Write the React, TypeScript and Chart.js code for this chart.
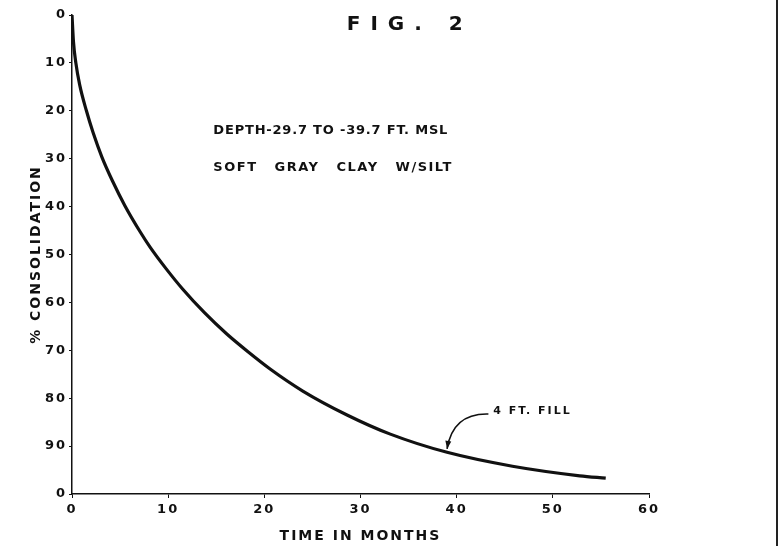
import { useEffect, useRef } from 'react';
import { Chart, registerables } from 'chart.js';

Chart.register(...registerables);

// ---- data ----
const months = [0, 0.15, 0.4, 0.8, 1.5, 2.2, 3.1, 4.2, 5.5, 7.1, 8.1, 9.8, 11.5, 13.8, 16.1, 18.3, 20.6, 24.0, 28.6, 33.1, 39.0, 45.8, 52.8, 55.5];
const consolidation = [0, 5.5, 10.0, 14.6, 20.0, 24.6, 29.6, 34.6, 39.8, 45.3, 48.4, 53.0, 57.2, 62.2, 66.6, 70.3, 73.9, 78.5, 83.5, 87.5, 91.3, 94.2, 96.2, 96.7];

const xTicks = [0, 10, 20, 30, 40, 50, 60];
const yTicks = [0, 10, 20, 30, 40, 50, 60, 70, 80, 90, 100];
const yTickLabels = ['0', '10', '20', '30', '40', '50', '60', '70', '80', '90', '0'];

const figTitle = 'FIG. 2';
const noteLines = ['DEPTH-29.7 TO -39.7 FT. MSL', 'SOFT GRAY CLAY W/SILT'];
const fillLabel = '4 FT. FILL';
const xTitle = 'TIME IN MONTHS';
const yTitle = '% CONSOLIDATION';

// annotation anchors in data units (month, % consolidation)
const figAt = [34.6, 2.1];
const noteAt = [[14.7, 24.2], [14.7, 31.9]];
const fillAt = [43.8, 82.7];
const arrowFrom = [43.3, 83.3];
const arrowCtrl = [39.6, 83.1];
const arrowTo = [39.0, 90.6];

const FONT = '"DejaVu Sans", sans-serif';
const INK = '#111';

const notesPlugin = {
  id: 'notes',
  beforeDraw(chart: any) {
    chart.ctx.letterSpacing = '2px';
  },
  afterDatasetsDraw(chart: any) {
    const { ctx, scales } = chart;
    const px = (v: number) => scales.x.getPixelForValue(v);
    const py = (v: number) => scales.y.getPixelForValue(v);
    ctx.save();
    ctx.fillStyle = INK;
    ctx.strokeStyle = INK;
    ctx.textBaseline = 'middle';

    // figure title
    ctx.font = `bold 20px ${FONT}`;
    ctx.letterSpacing = '10px';
    ctx.textAlign = 'center';
    ctx.fillText(figTitle, px(figAt[0]) + 5, py(figAt[1]));

    // notes
    ctx.textAlign = 'left';
    ctx.font = `bold 13px ${FONT}`;
    ctx.letterSpacing = '0.8px';
    ctx.fillText(noteLines[0], px(noteAt[0][0]), py(noteAt[0][1]));
    ctx.letterSpacing = '1.5px';
    (ctx as any).wordSpacing = '11px';
    ctx.fillText(noteLines[1], px(noteAt[1][0]), py(noteAt[1][1]));
    (ctx as any).wordSpacing = '0px';

    // fill label
    ctx.font = `bold 11px ${FONT}`;
    ctx.letterSpacing = '2px';
    ctx.fillText(fillLabel, px(fillAt[0]), py(fillAt[1]));

    // arrow
    const x0 = px(arrowFrom[0]), y0 = py(arrowFrom[1]);
    const cx = px(arrowCtrl[0]), cy = py(arrowCtrl[1]);
    const x1 = px(arrowTo[0]), y1 = py(arrowTo[1]);
    ctx.lineWidth = 1.6;
    ctx.beginPath();
    ctx.moveTo(x0, y0);
    ctx.quadraticCurveTo(cx, cy, x1, y1);
    ctx.stroke();
    const ang = Math.atan2(y1 - cy, x1 - cx);
    const L = 8, W = 3;
    ctx.beginPath();
    ctx.moveTo(x1, y1);
    ctx.lineTo(x1 - L * Math.cos(ang) + W * Math.sin(ang), y1 - L * Math.sin(ang) - W * Math.cos(ang));
    ctx.lineTo(x1 - L * Math.cos(ang) - W * Math.sin(ang), y1 - L * Math.sin(ang) + W * Math.cos(ang));
    ctx.closePath();
    ctx.fill();
    ctx.restore();
  },
};

export default function App() {
  const ref = useRef<HTMLCanvasElement>(null);
  useEffect(() => {
    document.body.style.margin = '0';
    const chart = new Chart(ref.current!, {
      type: 'line',
      data: {
        datasets: [
          {
            data: months.map((m, i) => ({ x: m, y: consolidation[i] })),
            borderColor: INK,
            borderWidth: 3.2,
            pointRadius: 0,
            cubicInterpolationMode: 'monotone',
            fill: false,
          },
        ],
      },
      options: {
        animation: false,
        responsive: false,
        events: [],
        layout: { padding: { top: 15, right: 131, left: 0, bottom: 0 } },
        plugins: { legend: { display: false }, tooltip: { enabled: false } },
        scales: {
          x: {
            type: 'linear',
            min: 0,
            max: 60,
            afterFit: (s: any) => { s.height = 52; },
            afterBuildTicks: (s: any) => { s.ticks = xTicks.map((v) => ({ value: v })); },
            grid: { drawOnChartArea: false, drawTicks: true, tickLength: 4, color: INK, lineWidth: 1 },
            border: { display: true, color: INK, width: 1.5 },
            ticks: { color: INK, font: { family: FONT, size: 13, weight: 'bold' }, padding: 4, maxRotation: 0 },
            title: { display: true, text: xTitle, color: INK, font: { family: FONT, size: 14, weight: 'bold' }, padding: { top: 0, bottom: 1 } },
          },
          y: {
            type: 'linear',
            min: 0,
            max: 100,
            reverse: true,
            afterFit: (s: any) => { s.width = 72; },
            afterBuildTicks: (s: any) => { s.ticks = yTicks.map((v) => ({ value: v })); },
            grid: { drawOnChartArea: false, drawTicks: true, tickLength: 3, color: INK, lineWidth: 1 },
            border: { display: true, color: INK, width: 1.5 },
            ticks: {
              color: INK,
              font: { family: FONT, size: 13, weight: 'bold' },
              padding: 2,
              callback: (v: any) => yTickLabels[yTicks.indexOf(Number(v))] ?? '',
            },
            title: { display: true, text: yTitle, color: INK, font: { family: FONT, size: 14, weight: 'bold' }, padding: { top: 28, bottom: 0 } },
          },
        },
      },
      plugins: [notesPlugin],
    } as any);
    return () => chart.destroy();
  }, []);
  return (
    <div style={{ position: 'relative', width: 780, height: 546, background: '#fff' }}>
      <canvas ref={ref} width={780} height={546} style={{ display: 'block' }} />
      <div style={{ position: 'absolute', left: 776, top: 0, width: 2, height: 546, background: '#222' }} />
    </div>
  );
}
